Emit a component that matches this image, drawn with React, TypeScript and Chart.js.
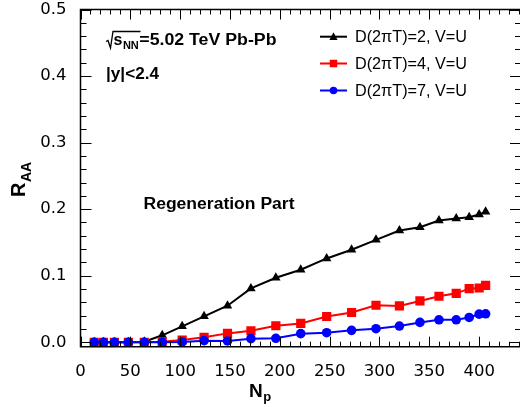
import React, { useEffect, useRef } from "react";
import { Chart, registerables } from "chart.js";

Chart.register(...registerables);

// ---- data ----
const npart = [13.8, 23, 34, 48, 64, 82, 102, 124, 147.5, 171, 196, 221, 247, 272, 296.5, 320, 340.6, 359.7, 377, 390, 400, 406.5];
const raaD2 = [0, 0, 0, 0, 0.001, 0.0105, 0.024, 0.039, 0.055, 0.081, 0.097, 0.109, 0.126, 0.139, 0.154, 0.168, 0.173, 0.183, 0.186, 0.188, 0.192, 0.196];
const raaD4 = [0, 0, 0, 0, 0, 0.001, 0.0035, 0.0075, 0.0134, 0.0174, 0.0249, 0.0284, 0.0388, 0.0448, 0.0557, 0.0547, 0.0622, 0.0692, 0.0736, 0.0806, 0.0816, 0.0856];
const raaD7 = [0, 0, 0, 0, 0, 0, 0.0005, 0.0025, 0.002, 0.0055, 0.006, 0.013, 0.0144, 0.018, 0.0204, 0.0244, 0.0299, 0.0338, 0.0338, 0.0373, 0.0423, 0.0428];

const seriesLabels = ["D(2\u03c0T)=2, V=U", "D(2\u03c0T)=4, V=U", "D(2\u03c0T)=7, V=U"];
const seriesColors = ["#000000", "#ff0000", "#0000ff"];
const seriesMarkers = ["triangle", "rect", "circle"];

const xTickValues = [0, 50, 100, 150, 200, 250, 300, 350, 400];
const yTickValues = [0, 0.1, 0.2, 0.3, 0.4, 0.5];
const xRange = [0, 441];
const yRange = [-0.0066, 0.5];

const SANS = '"Liberation Sans", Arial, Helvetica, sans-serif';
const TICKFONT = '"DejaVu Sans", sans-serif';

function fitText(ctx: CanvasRenderingContext2D, text: string, x: number, y: number, target?: number) {
  const w = ctx.measureText(text).width;
  if (!target) {
    ctx.fillText(text, x, y);
    return w;
  }
  ctx.save();
  ctx.translate(x, y);
  ctx.scale(target / w, 1);
  ctx.fillText(text, 0, 0);
  ctx.restore();
  return target;
}

function drawMarker(ctx: CanvasRenderingContext2D, kind: string, x: number, y: number, s: number) {
  ctx.beginPath();
  if (kind === "triangle") {
    ctx.moveTo(x, y - s * 0.6);
    ctx.lineTo(x + s * 0.55, y + s * 0.45);
    ctx.lineTo(x - s * 0.55, y + s * 0.45);
    ctx.closePath();
  } else if (kind === "rect") {
    ctx.rect(x - s / 2, y - s / 2, s, s);
  } else {
    ctx.arc(x, y, s / 2, 0, Math.PI * 2);
  }
  ctx.fill();
}

const decorPlugin = {
  id: "decor",
  afterDraw(chart: any) {
    const ctx: CanvasRenderingContext2D = chart.ctx;
    const ca = chart.chartArea;
    const xs = chart.scales.x;
    const ys = chart.scales.y;
    ctx.save();
    ctx.strokeStyle = "#000";
    ctx.fillStyle = "#000";

    // frame (right edge lies just outside the picture)
    ctx.lineWidth = 1.5;
    ctx.beginPath();
    ctx.moveTo(ca.right + 2, ca.top);
    ctx.lineTo(ca.left, ca.top);
    ctx.lineTo(ca.left, ca.bottom);
    ctx.lineTo(ca.right + 2, ca.bottom);
    ctx.stroke();

    // inner ticks
    ctx.lineWidth = 1;
    ctx.beginPath();
    for (let v = 0; v <= 440; v += 10) {
      const px = Math.round(xs.getPixelForValue(v)) + 0.5;
      const len = v % 50 === 0 ? 10 : 5;
      ctx.moveTo(px, ca.bottom);
      ctx.lineTo(px, ca.bottom - len);
      ctx.moveTo(px, ca.top);
      ctx.lineTo(px, ca.top + len);
    }
    for (let i = 0; i <= 25; i++) {
      const v = i * 0.02;
      const py = Math.round(ys.getPixelForValue(v)) + 0.5;
      const len = i % 5 === 0 ? 11 : 6;
      ctx.moveTo(ca.left, py);
      ctx.lineTo(ca.left + len, py);
      ctx.moveTo(ca.right + 1, py);
      ctx.lineTo(ca.right + 1 - len, py);
    }
    ctx.stroke();

    // axis titles
    ctx.textBaseline = "alphabetic";
    ctx.textAlign = "left";
    ctx.font = `bold 19px ${SANS}`;
    const nW = ctx.measureText("N").width;
    const nx = 249;
    ctx.fillText("N", nx, 396.5);
    ctx.font = `bold 13px ${SANS}`;
    ctx.fillText("p", nx + nW + 0.5, 401);

    ctx.save();
    ctx.translate(25, 197);
    ctx.rotate(-Math.PI / 2);
    ctx.font = `bold 20px ${SANS}`;
    const rW = ctx.measureText("R").width;
    ctx.fillText("R", 0, 0);
    ctx.font = `bold 14px ${SANS}`;
    ctx.fillText("AA", rW + 0.5, 6);
    ctx.restore();

    // sqrt(s_NN) annotation
    ctx.lineWidth = 1.3;
    ctx.beginPath();
    ctx.moveTo(106, 41.5);
    ctx.lineTo(108, 40.5);
    ctx.lineTo(110.5, 48);
    ctx.lineTo(113, 31.5);
    ctx.lineTo(140.5, 31.5);
    ctx.stroke();
    ctx.font = `bold 16px ${SANS}`;
    let cx = 113.5;
    cx += ctx.measureText("s").width;
    ctx.fillText("s", 113.5, 45);
    ctx.font = `bold 11px ${SANS}`;
    ctx.fillText("NN", cx + 0.5, 48.5);
    cx += ctx.measureText("NN").width + 1;
    ctx.font = `bold 16px ${SANS}`;
    fitText(ctx, "=5.02 TeV Pb-Pb", cx, 45, 276.5 - cx);
    fitText(ctx, "|y|<2.4", 106, 79, 53);
    fitText(ctx, "Regeneration Part", 143.5, 209, 151);

    // legend
    const ly = [36.7, 63.5, 90.5];
    ctx.font = `16px ${SANS}`;
    ctx.textBaseline = "middle";
    for (let i = 0; i < 3; i++) {
      ctx.strokeStyle = seriesColors[i];
      ctx.fillStyle = seriesColors[i];
      ctx.lineWidth = 2;
      ctx.beginPath();
      ctx.moveTo(320, ly[i]);
      ctx.lineTo(347, ly[i]);
      ctx.stroke();
      drawMarker(ctx, seriesMarkers[i], 333.5, ly[i], 7.5);
      ctx.fillStyle = "#000";
      fitText(ctx, seriesLabels[i], 355, ly[i] + 1, 112);
    }
    ctx.restore();
  },
};

export default function App() {
  const ref = useRef<HTMLCanvasElement | null>(null);
  useEffect(() => {
    document.body.style.margin = "0";
    const canvas = ref.current!;
    const seriesData = [raaD2, raaD4, raaD7];
    const chart = new Chart(canvas, {
      type: "line",
      data: {
        datasets: seriesData.map((vals, i) => ({
          label: seriesLabels[i],
          data: npart.map((x, j) => ({ x, y: vals[j] })),
          borderColor: seriesColors[i],
          backgroundColor: seriesColors[i],
          borderWidth: 2,
          pointStyle: seriesMarkers[i] as any,
          pointRadius: i === 1 ? 6.5 : i === 0 ? 5.5 : 4.8,
          pointBorderWidth: 0,
          pointBackgroundColor: seriesColors[i],
          tension: 0,
          order: 3 - i,
        })),
      },
      options: {
        animation: false,
        responsive: false,
        maintainAspectRatio: false,
        layout: { autoPadding: false, padding: { top: 9.5, right: 0, left: 0, bottom: 0 } },
        plugins: { legend: { display: false }, tooltip: { enabled: false } },
        scales: {
          x: {
            type: "linear",
            min: xRange[0],
            max: xRange[1],
            grid: { display: false },
            border: { display: false },
            afterBuildTicks: (s: any) => {
              s.ticks = xTickValues.map((v) => ({ value: v }));
            },
            afterFit: (s: any) => {
              s.height = 60.3;
              s.paddingLeft = 0;
              s.paddingRight = 0;
              s.paddingTop = 0;
              s.paddingBottom = 0;
            },
            ticks: {
              color: "#000",
              font: { family: TICKFONT, size: 16.5 },
              padding: 7,
              maxRotation: 0,
              autoSkip: false,
              callback: (v: any) => String(v),
            },
          },
          y: {
            type: "linear",
            min: yRange[0],
            max: yRange[1],
            grid: { display: false },
            border: { display: false },
            afterBuildTicks: (s: any) => {
              s.ticks = yTickValues.map((v) => ({ value: v }));
            },
            afterFit: (s: any) => {
              s.width = 80.5;
              s.paddingLeft = 0;
              s.paddingRight = 0;
              s.paddingTop = 0;
              s.paddingBottom = 0;
            },
            ticks: {
              color: "#000",
              font: { family: TICKFONT, size: 16.5 },
              padding: 6,
              autoSkip: false,
              callback: (v: any) => Number(v).toFixed(1),
            },
          },
        },
      },
      plugins: [decorPlugin],
    });
    return () => chart.destroy();
  }, []);
  return (
    <div style={{ position: "absolute", left: 0, top: 0, width: 520, height: 407, background: "#fff" }}>
      <canvas ref={ref} width={520} height={407} />
    </div>
  );
}
